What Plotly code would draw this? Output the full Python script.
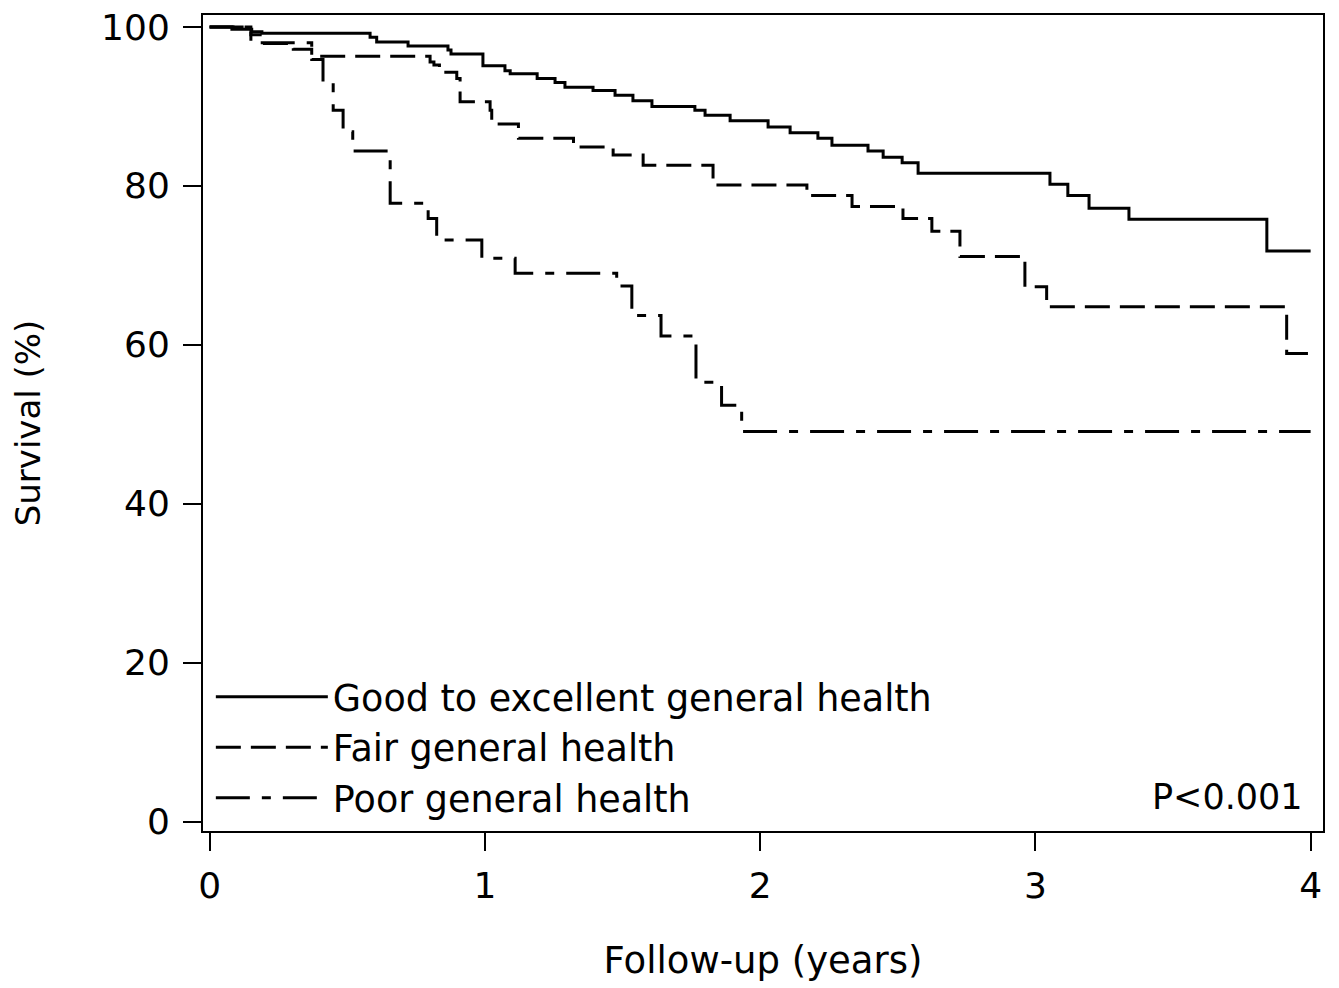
import plotly.graph_objects as go

# Kaplan-Meier step data (time in years, survival in %)
good_t = [0, 0.081, 0.153, 0.19, 0.583, 0.607, 0.721, 0.866, 0.877, 0.993, 1.073, 1.092, 1.190,
          1.255, 1.291, 1.393, 1.473, 1.538, 1.607, 1.763, 1.800, 1.891, 2.029, 2.109,
          2.210, 2.261, 2.392, 2.447, 2.516, 2.574, 3.053, 3.118, 3.195, 3.340, 3.841, 4.0]
good_s = [100, 99.7, 99.4, 99.2, 98.7, 98.1, 97.6, 97.1, 96.6, 95.1, 94.5, 94.1, 93.5,
          93.0, 92.4, 92.0, 91.4, 90.7, 90.0, 89.5, 88.9, 88.2, 87.4, 86.7,
          86.0, 85.1, 84.4, 83.6, 82.9, 81.6, 80.2, 78.8, 77.2, 75.8, 71.8, 71.8]

fair_t = [0, 0.15, 0.19, 0.304, 0.371, 0.801, 0.815, 0.835, 0.898, 0.91, 1.019, 1.025, 1.122,
          1.322, 1.466, 1.575, 1.829, 2.170, 2.334, 2.519, 2.624, 2.726, 2.962, 3.041,
          3.913, 4.0]
fair_s = [100, 99.0, 97.9, 97.2, 96.3, 95.6, 95.2, 94.3, 93.5, 90.6, 89.5, 87.8, 86.0,
          84.9, 83.9, 82.6, 80.1, 78.8, 77.4, 75.9, 74.3, 71.1, 67.3, 64.8,
          58.9, 58.9]

poor_t = [0, 0.15, 0.371, 0.412, 0.449, 0.485, 0.52, 0.656, 0.794, 0.825, 0.989, 1.11,
          1.479, 1.534, 1.64, 1.767, 1.86, 1.933, 4.0]
poor_s = [100, 98.0, 95.9, 93.0, 89.5, 86.8, 84.4, 77.8, 75.9, 73.2, 70.9, 69.0,
          67.4, 63.7, 61.1, 55.3, 52.4, 49.1, 49.1]

names = ["Good to excellent general health", "Fair general health", "Poor general health"]
x_ticks = [0, 1, 2, 3, 4]
y_ticks = [0, 20, 40, 60, 80, 100]

FONT = "DejaVu Sans"

fig = go.Figure()
series = [(good_t, good_s, "solid"), (fair_t, fair_s, "25px,10px"),
          (poor_t, poor_s, "34px,12px,9px,12px")]
for (t, s, dash), name in zip(series, names):
    fig.add_trace(go.Scatter(x=t, y=s, mode="lines", name=name,
                             line=dict(color="black", width=3, dash=dash, shape="hv")))

fig.add_annotation(text="P<0.001", xref="paper", yref="paper", x=0.984, y=0.042,
                   xanchor="right", yanchor="middle", showarrow=False,
                   font=dict(family=FONT, size=35, color="black"))

axis_common = dict(showline=True, linecolor="black", linewidth=2, mirror=True,
                   ticks="outside", ticklen=18, tickwidth=2, tickcolor="black",
                   showgrid=False, zeroline=False, ticklabeloverflow="allow",
                   tickfont=dict(family=FONT, size=36, color="black"))

fig.update_xaxes(range=[-0.024, 4.045], tickvals=x_ticks, ticklabelstandoff=4,
                 title=dict(text="Follow-up (years)", standoff=42,
                            font=dict(family=FONT, size=37, color="black")),
                 **axis_common)
fig.update_yaxes(range=[-1.17, 101.5], tickvals=y_ticks, ticklabelstandoff=6,
                 title=dict(text="Survival (%)", standoff=62,
                            font=dict(family=FONT, size=34, color="black")),
                 **axis_common)

fig.update_layout(
    width=1331, height=980,
    margin=dict(l=195, r=16, t=7, b=157, autoexpand=False),
    plot_bgcolor="white", paper_bgcolor="white",
    font=dict(family=FONT, color="black"),
    legend=dict(x=0.007, y=0.003, xanchor="left", yanchor="bottom",
                bgcolor="rgba(0,0,0,0)", borderwidth=0, itemwidth=112,
                font=dict(family=FONT, size=36.5, color="black"),
                tracegroupgap=0),
)

fig.write_html("out.html")
